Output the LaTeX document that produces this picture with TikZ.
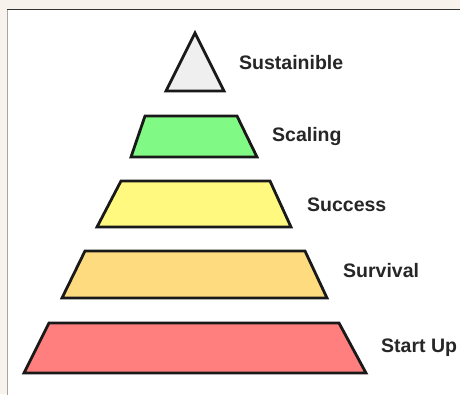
\documentclass[tikz,border=0pt]{standalone}
\usepackage{fontspec}
\setmainfont{Liberation Sans}
\begin{document}
\begin{tikzpicture}[x=1pt,y=-1pt,
  tier/.style={draw=black!90, line width=2.8pt, line join=miter},
  lbl/.style={font=\bfseries\fontsize{19.5}{22}\selectfont, text=black!85, anchor=west, inner sep=0pt}]
  \definecolor{cream}{HTML}{F7F2EB}
  \definecolor{tgray}{HTML}{EFEFEF}
  \definecolor{tgreen}{HTML}{80FA84}
  \definecolor{tyellow}{HTML}{FFF97F}
  \definecolor{torange}{HTML}{FFDB80}
  \definecolor{tred}{HTML}{FF7F7F}
  % page background and panel
  \fill[cream] (0,0) rectangle (460,394);
  \useasboundingbox (0,0) rectangle (460,394);
  \fill[white] (7,9.5) rectangle (461,395);
  \draw[black!35, line width=1pt] (7.5,395) -- (7.5,9.5);
  \draw[black!80, line width=1.6pt] (7,9.5) -- (461,9.5);
  % pyramid tiers
  \path[tier, fill=tgray] (195,33) -- (224,91) -- (166,91) -- cycle;
  \path[tier, fill=tgreen] (145,116) -- (237,116) -- (257,157) -- (131,157) -- cycle;
  \path[tier, fill=tyellow] (121,181) -- (270,181) -- (291,227) -- (97,227) -- cycle;
  \path[tier, fill=torange] (85,251) -- (305,251) -- (327,298) -- (62,298) -- cycle;
  \path[tier, fill=tred] (49,323) -- (339,323) -- (366,373) -- (24,373) -- cycle;
  % labels
  \node[lbl] (sus) at (239,63) {Sustainible};
  \node[lbl] (sca) at (272,136) {Scaling};
  \node[lbl] (suc) at (307,205) {Success};
  \node[lbl] (sur) at (343,271) {Survival};
  \node[lbl] (stu) at (381,348) {Start Up};
\end{tikzpicture}
\end{document}
